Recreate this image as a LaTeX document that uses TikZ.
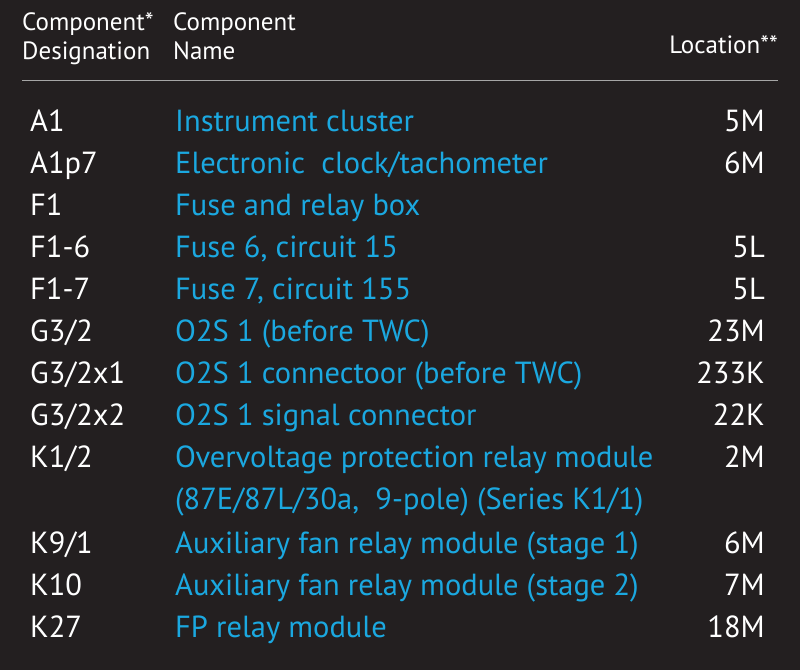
\documentclass[tikz,border=0pt]{standalone}
\usepackage{fontspec}
\setmainfont{PT Sans}
\definecolor{bg}{HTML}{231F20}
\definecolor{cyanb}{HTML}{1BA8E0}
\begin{document}
\begin{tikzpicture}[x=1pt,y=-1pt,
  hd/.style={text=white,font=\fontsize{25}{29}\selectfont,inner sep=0pt,align=left},
  des/.style={text=white,font=\fontsize{30.5}{33}\selectfont,inner sep=0pt,anchor=base west},
  nm/.style={text=cyanb,font=\fontsize{30.5}{33}\selectfont,inner sep=0pt,anchor=base west},
  loc/.style={text=white,font=\fontsize{30.5}{33}\selectfont,inner sep=0pt,anchor=base east}]
\fill[bg] (0,0) rectangle (800,670);
\useasboundingbox (0,0) rectangle (800,670);
\node[hd,anchor=north west] (h1) at (22,12) {Component*\\Designation};
\node[hd,anchor=north west] (h2) at (173,12) {Component\\Name};
\node[hd,anchor=base east] (h3) at (778,53) {Location**};
\draw[gray!70,line width=1pt] (22,80) -- (778,80);
\foreach \d/\n/\l [count=\i] in {A1/Instrument cluster/5M,A1p7/Electronic\ \ clock\slash tachometer/6M,F1/Fuse and relay box/,F1-6/{Fuse 6, circuit 15}/5L,F1-7/{Fuse 7, circuit 155}/5L,G3\slash 2/O2S 1 (before TWC)/23M,G3\slash 2x1/O2S 1 connectoor (before TWC)/233K,G3\slash 2x2/O2S 1 signal connector/22K,K1\slash 2/Overvoltage protection relay module/2M}{
  \pgfmathsetmacro\yy{131+42*(\i-1)}
  \node[des] (d\i) at (30,\yy) {\d};
  \node[nm] (n\i) at (175,\yy) {\n};
  \node[loc] (l\i) at (765,\yy) {\l};
}
\node[nm] (n10) at (175,509) {(87E/87L/30a,\ \ 9-pole) (Series K1/1)};
\foreach \d/\n/\l/\yy in {K9\slash 1/Auxiliary fan relay module (stage 1)/6M/553,K10/Auxiliary fan relay module (stage 2)/7M/595,K27/FP relay module/18M/637}{
  \node[des] at (30,\yy) {\d};
  \node[nm] at (175,\yy) {\n};
  \node[loc] at (765,\yy) {\l};
}
\end{tikzpicture}
\end{document}
